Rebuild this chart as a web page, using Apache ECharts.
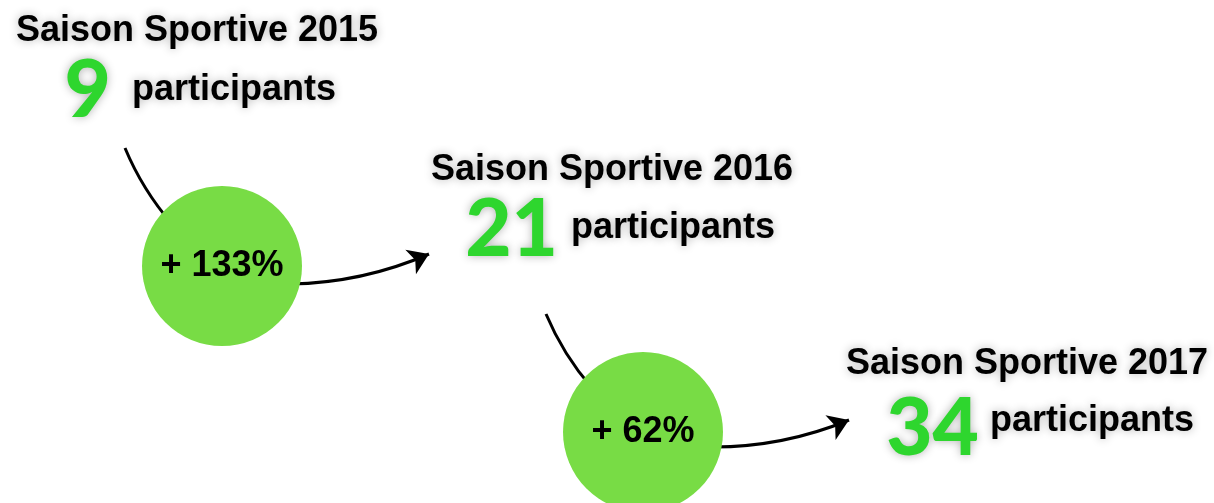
<!DOCTYPE html>
<html>
<head>
<meta charset="utf-8">
<script src="https://cdn.jsdelivr.net/npm/echarts@6/dist/echarts.min.js"></script>
<style>
  html, body { margin: 0; padding: 0; background: #fff; }
  #chart { width: 1214px; height: 503px; }
</style>
</head>
<body>
<div id="chart"></div>
<script>
// data
const seasons = ["Saison Sportive 2015", "Saison Sportive 2016", "Saison Sportive 2017"];
const participants = [9, 21, 34];
const unitLabel = "participants";
const growth = [133, 62]; // % between consecutive seasons

// layout (pixel units on hidden axes)
const titlePos = [[197, 31], [612, 170], [1027, 364]];
const numberPos = [[111, 91], [558, 230], [979, 429]]; // right edge, middle
const wordPos = [[132, 90], [571, 228], [990, 421]];   // left edge, middle
const bubblePos = [[222, 266], [643, 432]];
const arrowIn = [[[125, 148], [172, 224]], [[546, 314], [592, 388]]];
const arrowOut = [[[290, 284], [429, 254]], [[712, 447], [849, 420]]];

const chart = echarts.init(document.getElementById("chart"));

const shadow = {
  textShadowColor: "rgba(0,0,0,0.3)",
  textShadowBlur: 10
};
const hiddenDot = { color: "transparent", opacity: 1 };

const option = {
  animation: false,
  grid: { left: 0, right: 0, top: 0, bottom: 0 },
  xAxis: { type: "value", min: 0, max: 1214, show: false },
  yAxis: { type: "value", min: 0, max: 503, inverse: true, show: false },
  series: [
    {
      type: "lines",
      coordinateSystem: "cartesian2d",
      z: 1,
      symbol: ["none", "none"],
      lineStyle: { color: "#000", width: 3, curveness: -0.08, opacity: 1 },
      data: arrowIn.map((c) => ({ coords: c }))
    },
    {
      type: "lines",
      coordinateSystem: "cartesian2d",
      z: 1,
      symbol: ["none", "arrow"],
      symbolSize: 20,
      lineStyle: { color: "#000", width: 3, curveness: -0.1, opacity: 1 },
      data: arrowOut.map((c) => ({ coords: c }))
    },
    {
      type: "scatter",
      z: 3,
      symbolSize: 160,
      itemStyle: { color: "#78DC45", opacity: 1 },
      label: {
        show: true,
        position: "inside",
        formatter: (p) => "+ " + p.value[2] + "%",
        color: "#000",
        fontFamily: "Liberation Sans, Arial, sans-serif",
        fontWeight: "bold",
        fontSize: 36
      },
      data: bubblePos.map((p, i) => [p[0], p[1], growth[i]])
    },
    {
      type: "scatter",
      z: 4,
      symbolSize: 1,
      itemStyle: hiddenDot,
      label: {
        show: true,
        position: "inside",
        align: "center",
        verticalAlign: "middle",
        formatter: (p) => p.value[2],
        color: "#000",
        fontFamily: "Liberation Sans, Arial, sans-serif",
        fontWeight: "bold",
        fontSize: 36,
        ...shadow
      },
      data: titlePos.map((p, i) => [p[0], p[1], seasons[i]])
    },
    {
      type: "scatter",
      z: 4,
      symbolSize: 1,
      itemStyle: hiddenDot,
      label: {
        show: true,
        position: "inside",
        align: "right",
        verticalAlign: "middle",
        formatter: (p) => String(p.value[2]),
        color: "#2ED62E",
        fontFamily: "Lato, Liberation Sans, sans-serif",
        fontWeight: 900,
        fontSize: 80,
        ...shadow
      },
      data: numberPos.map((p, i) => [p[0], p[1], participants[i]])
    },
    {
      type: "scatter",
      z: 4,
      symbolSize: 1,
      itemStyle: hiddenDot,
      label: {
        show: true,
        position: "inside",
        align: "left",
        verticalAlign: "middle",
        formatter: () => unitLabel,
        color: "#000",
        fontFamily: "Liberation Sans, Arial, sans-serif",
        fontWeight: "bold",
        fontSize: 36,
        ...shadow
      },
      data: wordPos.map((p) => [p[0], p[1]])
    }
  ]
};

chart.setOption(option);
</script>
</body>
</html>
